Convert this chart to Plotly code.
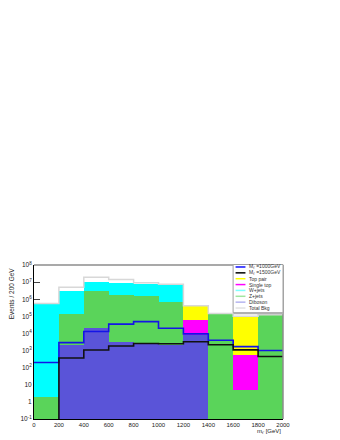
import plotly.graph_objects as go

# bin edges (GeV)
edges = [0, 200, 400, 600, 800, 1000, 1200, 1400, 1600, 1800, 2000]
centers = [100, 300, 500, 700, 900, 1100, 1300, 1500, 1700, 1900]

# stacked background components (events / 200 GeV)
diboson   = [0, 2100, 20000, 3300, 2700, 2000, 8300, 0, 0, 0]
zjets     = [1.9, 128000, 3.08e6, 1.7e6, 1.5e6, 7.0e5, 0, 1.4e5, 5, 1.2e5]
wjets     = [5.2e5, 2.77e6, 6.9e6, 7.6e6, 5.9e6, 5.8e6, 0, 0, 0, 0]
singletop = [0, 0, 0, 0, 0, 0, 5.2e4, 0, 535, 0]
ttbar     = [0, 0, 0, 0, 0, 0, 3.4e5, 0, 9.5e4, 0]
total_bkg = [5.6e5, 5.0e6, 1.9e7, 1.4e7, 9.3e6, 7.4e6, 4.2e5, 1.45e5, 1.0e5, 1.25e5]

# signal
m1000 = [200, 2900, 13000, 35000, 49000, 20000, 9500, 4000, 1700, 1000]
m1500 = [0, 370, 1070, 1850, 2600, 2500, 3300, 2200, 1100, 450]

ytick_vals = [0.1, 1, 10, 100, 1e3, 1e4, 1e5, 1e6, 1e7, 1e8]
ytick_text = ["10<sup>-1</sup>", "1", "10", "10<sup>2</sup>", "10<sup>3</sup>", "10<sup>4</sup>",
              "10<sup>5</sup>", "10<sup>6</sup>", "10<sup>7</sup>", "10<sup>8</sup>"]
xtick_vals = [0, 200, 400, 600, 800, 1000, 1200, 1400, 1600, 1800, 2000]

legend_names = ["M<sub>t'</sub> =1000GeV", "M<sub>t'</sub> =1500GeV", "Top pair", "Single top",
                "W+jets", "Z+jets", "Diboson", "Total Bkg"]
legend_colors = ["#1010ff", "#000000", "#ffff00", "#ff00ff", "#80ffff", "#a0e6a0", "#b4b4f0", "#e2e2e2"]

FONT = "Liberation Sans, Arial, sans-serif"

fig = go.Figure()
stack = [(diboson, "#5a54d8", "Diboson"), (zjets, "#5ad45a", "Z+jets"), (wjets, "#00ffff", "W+jets"),
         (singletop, "#ff00ff", "Single top"), (ttbar, "#ffff00", "Top pair")]
for vals, col, name in stack:
    fig.add_trace(go.Bar(x=centers, y=vals, width=[200] * len(centers), marker_color=col,
                         marker_line_width=0, name=name, showlegend=False))

def step(vals):
    v = [x if x > 0 else 1e-3 for x in vals]
    return v + [v[-1]]

fig.add_trace(go.Scatter(x=edges, y=step(total_bkg), mode="lines", line_shape="hv",
                         line=dict(color="#d8d8d8", width=1.5), showlegend=False))
fig.add_trace(go.Scatter(x=edges, y=step(m1000), mode="lines", line_shape="hv",
                         line=dict(color="#1414e6", width=1.6), showlegend=False))
fig.add_trace(go.Scatter(x=edges, y=step(m1500), mode="lines", line_shape="hv",
                         line=dict(color="#111111", width=1.6), showlegend=False))

# page offset of the plotly div (default body margin)
OFF = 8
FW, FH = 340 - OFF, 440 - OFF
# plot area in screen pixels
L, R, T, B = 31, 283, 265, 420
W, H = R - L, B - T
def px(x):
    return (x - L) / W
def py(y):
    return (B - y) / H

shapes = []
annotations = []
# frame: top and right in gray
shapes.append(dict(type="line", xref="paper", yref="paper", x0=0, x1=1, y0=1, y1=1,
                   line=dict(color="#8c8c8c", width=1.5)))
shapes.append(dict(type="line", xref="paper", yref="paper", x0=1, x1=1, y0=0, y1=1,
                   line=dict(color="#8c8c8c", width=1.5)))
# legend box
shapes.append(dict(type="rect", xref="paper", yref="paper", x0=px(232.5), x1=px(283), y0=py(313),
                   y1=py(264.5), fillcolor="white", line=dict(color="#a0a0a0", width=1)))
shapes.append(dict(type="line", xref="paper", yref="paper", x0=px(233), x1=px(283), y0=py(313.5),
                   y1=py(313.5), line=dict(color="#b0b0b0", width=2)))
for i, (nm, col) in enumerate(zip(legend_names, legend_colors)):
    yy = 267 + i * 5.9
    shapes.append(dict(type="line", xref="paper", yref="paper", x0=px(235), x1=px(245),
                       y0=py(yy), y1=py(yy), line=dict(color=col, width=1.5)))
    annotations.append(dict(xref="paper", yref="paper", x=px(247), y=py(yy), text=nm,
                            showarrow=False, xanchor="left", yanchor="middle",
                            font=dict(size=5, color="#333333", family=FONT)))

annotations.append(dict(xref="paper", yref="paper", x=1, y=py(433), text="m<sub>t'</sub> [GeV]",
                        showarrow=False, xanchor="right", yanchor="middle",
                        font=dict(size=6, color="#222222", family=FONT)))
annotations.append(dict(xref="paper", yref="paper", x=px(8), y=1, text="Events / 200 GeV",
                        showarrow=False, xanchor="center", yanchor="top", textangle=-90,
                        font=dict(size=6.5, color="#222222", family=FONT)))

fig.update_layout(
    width=FW, height=FH,
    margin=dict(l=L - OFF, r=FW - (R - OFF), t=T - OFF, b=FH - (B - OFF), pad=0),
    paper_bgcolor="white", plot_bgcolor="white",
    barmode="stack", bargap=0,
    shapes=shapes, annotations=annotations,
    font=dict(family=FONT, size=6, color="#222222"),
    xaxis=dict(range=[0, 2000], tickvals=xtick_vals, ticks="inside", ticklen=4, tickcolor="black",
               showgrid=False, zeroline=False, showline=True, linecolor="black", linewidth=1,
               layer="below traces", tickfont=dict(size=6)),
    yaxis=dict(type="log", range=[-1, 8], tickvals=ytick_vals, ticktext=ytick_text, ticks="inside",
               ticklen=6, tickcolor="#444444", showgrid=False, zeroline=False, showline=True,
               linecolor="black", linewidth=1, layer="below traces", tickfont=dict(size=6.5)),
)

fig.write_html("out.html")
